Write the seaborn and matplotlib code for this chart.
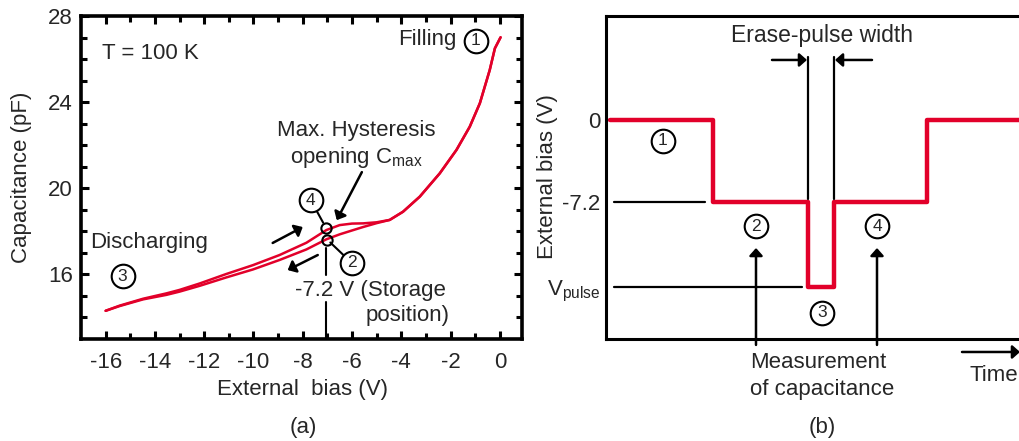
import numpy as np
import pandas as pd
import matplotlib
matplotlib.use("Agg")
import matplotlib.pyplot as plt
import seaborn as sns

# C-V hysteresis at T = 100 K
bias_down = [0.03, -0.2, -0.41, -0.81, -1.22, -1.76, -2.44, -3.25, -3.93, -4.47, -5.0, -5.55,
             -6.0, -6.5, -7.04, -7.85, -8.94, -10.02, -11.1, -12.18, -13.0, -13.53, -14.48, -15.43, -16.0]
cap_down = [27.01, 26.5, 25.49, 23.95, 22.86, 21.78, 20.69, 19.61, 18.91, 18.53, 18.38, 18.2,
            18.04, 17.86, 17.63, 17.16, 16.67, 16.23, 15.86, 15.47, 15.2, 15.05, 14.84, 14.53, 14.31]
bias_up = [-16.0, -15.43, -14.48, -13.53, -13.0, -12.18, -11.1, -10.02, -8.94, -7.85, -7.04, -6.5,
           -6.0, -5.55, -5.0, -4.47, -3.93, -3.25, -2.44, -1.76, -1.22, -0.81, -0.41, -0.2, 0.03]
cap_up = [14.31, 14.55, 14.87, 15.12, 15.28, 15.58, 16.02, 16.43, 16.9, 17.47, 18.06, 18.29,
          18.36, 18.37, 18.42, 18.53, 18.91, 19.61, 20.69, 21.78, 22.86, 23.95, 25.49, 26.5, 27.01]

# pulse sequence (schematic)
t_steps = [0.4, 10.7, 20.2, 22.8, 32.1, 42.0]
v_steps = [0.0, -7.2, -14.7, -7.2, 0.0, 0.0]
v_ticks = [0.0, -7.2, -14.7]
v_ticklabels = ["0", "-7.2", r"V$_{\mathregular{pulse}}$"]

RED = "#e2002a"
INK = "#262626"

sns.set_theme(style="ticks")
plt.rcParams["font.family"] = ["Liberation Sans", "DejaVu Sans"]
plt.rcParams["text.color"] = INK
plt.rcParams["axes.unicode_minus"] = False

fig = plt.figure(figsize=(10.2, 4.41), dpi=100)
W, H = 1020.0, 441.0
ax1 = fig.add_axes([81 / W, (H - 339) / H, (522 - 81) / W, (339 - 16) / H])
ax2 = fig.add_axes([606 / W, (H - 339) / H, (1030 - 606) / W, (339 - 16) / H])


def circled(ax, x, y, s, ms=17.0):
    ax.plot([x], [y], "o", ms=ms, mfc="white", mec="black", mew=1.5, zorder=5, clip_on=False)
    ax.text(x, y, s, ha="center", va="center", fontsize=12.5, zorder=6, color=INK)


def arrow(ax, x0, y0, x1, y1, lw=1.8, hw=10, hl=11):
    ax.annotate("", xy=(x1, y1), xytext=(x0, y0), annotation_clip=False,
                arrowprops=dict(arrowstyle=f"-|>,head_width={hw / 30:.2f},head_length={hl / 30:.2f}",
                                color="black", lw=lw, shrinkA=0, shrinkB=0))


# ---------------- (a) ----------------
sns.lineplot(x=bias_down, y=cap_down, sort=False, estimator=None, color=RED, lw=1.8, ax=ax1)
sns.lineplot(x=bias_up, y=cap_up, sort=False, estimator=None, color=RED, lw=1.8, ax=ax1)
ax1.set_xlim(-17.0, 0.9)
ax1.set_ylim(13.0, 28.0)
ax1.set_xticks(np.arange(-16, 1, 2))
ax1.set_xticks(np.arange(-16, 1, 1), minor=True)
ax1.set_yticks([16, 20, 24, 28])
ax1.set_yticks(np.arange(14, 28, 1), minor=True)
ax1.tick_params(which="both", direction="in", top=True, right=True, width=2.2, labelsize=16,
                labelcolor=INK, color="black")
ax1.tick_params(which="major", length=6)
ax1.tick_params(which="minor", length=4)
ax1.tick_params(axis="x", pad=9)
ax1.tick_params(axis="y", pad=6)
for sp in ax1.spines.values():
    sp.set_linewidth(2.6)
    sp.set_color("black")
ax1.set_xlabel("")
ax1.set_ylabel("")

ax1.text(-16.16, 26.28, "T = 100 K", fontsize=16, va="center", ha="left")
ax1.text(-1.75, 26.89, "Filling", fontsize=16, va="center", ha="right")
circled(ax1, -0.97, 26.84, "1")
ax1.text(-5.81, 22.7, "Max. Hysteresis", fontsize=16, ha="center", va="center")
ax1.text(-5.81, 21.45, r"opening C$_{\mathregular{max}}$", fontsize=16, ha="center", va="center")
arrow(ax1, -5.6, 20.75, -6.62, 18.52)
ax1.plot([-7.675, -7.17], [19.45, 18.4], color="black", lw=1.5)
ax1.plot([-6.88, -6.01], [17.48, 16.53], color="black", lw=1.5)
circled(ax1, -7.675, 19.45, "4")
circled(ax1, -6.01, 16.53, "2")
ax1.plot([-7.07, -7.03], [18.15, 17.62], "o", ms=7.4, mfc="none", mec="black", mew=1.5, ls="none")
ax1.plot([-7.07, -7.07], [17.22, 15.97], color="black", lw=1.5)
ax1.plot([-7.07, -7.07], [14.72, 13.0], color="black", lw=1.5)
ax1.text(-8.32, 15.27, "-7.2 V (Storage", fontsize=16, ha="left", va="center")
ax1.text(-2.03, 14.07, "position)", fontsize=16, ha="right", va="center")
arrow(ax1, -9.22, 17.46, -8.0, 18.2)
arrow(ax1, -7.39, 16.9, -8.61, 16.2)
ax1.text(-16.61, 17.5, "Discharging", fontsize=16, ha="left", va="center")
circled(ax1, -15.31, 15.92, "3")

fig.text(22 / W, (H - 177) / H, "Capacitance (pF)", rotation=90, fontsize=16, ha="center", va="center")
fig.text(303 / W, (H - 390) / H, "External  bias (V)", fontsize=16, ha="center", va="center")
fig.text(303 / W, (H - 427) / H, "(a)", fontsize=16, ha="center", va="center")

# ---------------- (b) ----------------
sns.lineplot(x=t_steps, y=v_steps, drawstyle="steps-post", color=RED, lw=3.2, ax=ax2)
ax2.set_xlim(0, (1030 - 606) / 10.0)
ax2.set_ylim(-19.23, 9.13)
ax2.set_xticks([])
ax2.set_yticks(v_ticks)
ax2.set_yticklabels(v_ticklabels)
ax2.tick_params(axis="y", length=0, pad=4, labelsize=16, labelcolor=INK)
for sp in ax2.spines.values():
    sp.set_linewidth(2.2)
    sp.set_color("black")
ax2.set_xlabel("")
ax2.set_ylabel("")

ax2.plot([0.8, 9.9], [-7.2, -7.2], color="black", lw=1.6)
ax2.plot([0.8, 19.6], [-14.7, -14.7], color="black", lw=1.6)
ax2.plot([20.2, 20.2], [5.53, -6.94], color="black", lw=1.6)
ax2.plot([22.8, 22.8], [5.53, -6.94], color="black", lw=1.6)
arrow(ax2, 16.6, 5.27, 20.1, 5.27)
arrow(ax2, 26.6, 5.27, 22.9, 5.27)
ax2.text(21.6, 7.46, "Erase-pulse width", fontsize=16.5, ha="center", va="center")
circled(ax2, 5.7, -1.84, "1")
circled(ax2, 15.0, -9.31, "2")
circled(ax2, 27.1, -9.31, "4")
circled(ax2, 21.6, -16.94, "3")
arrow(ax2, 15.0, -19.75, 15.0, -11.24)
arrow(ax2, 27.1, -19.75, 27.1, -11.24)
ax2.text(21.2, -21.33, "Measurement", fontsize=16, ha="center", va="center", clip_on=False)
ax2.text(21.6, -23.7, "of capacitance", fontsize=16, ha="center", va="center", clip_on=False)
arrow(ax2, 35.6, -20.37, 41.4, -20.37)
ax2.text(36.4, -22.4, "Time", fontsize=16, ha="left", va="center", clip_on=False)

fig.text(548 / W, (H - 177) / H, "External bias (V)", rotation=90, fontsize=16, ha="center", va="center")
fig.text(822 / W, (H - 427) / H, "(b)", fontsize=16, ha="center", va="center")

fig.savefig("out.png", dpi=100)
